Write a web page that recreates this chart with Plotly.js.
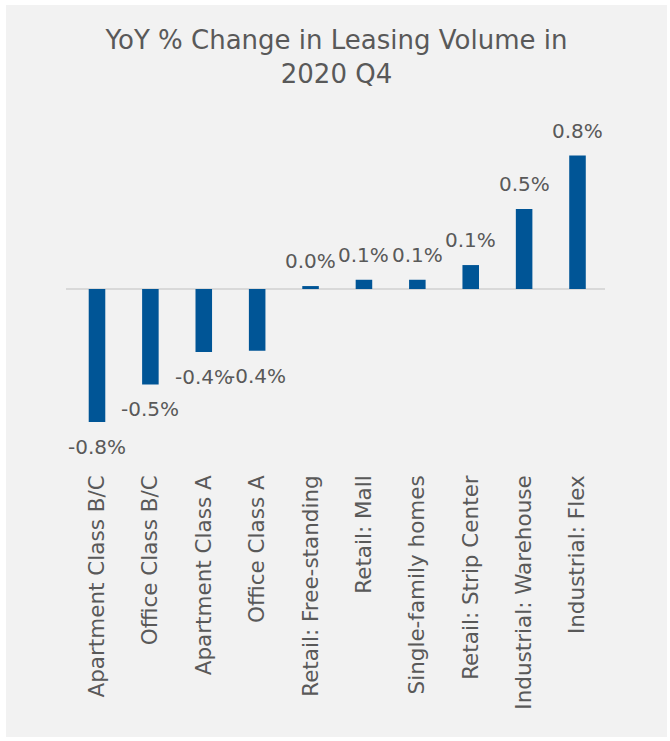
<!DOCTYPE html>
<html>
<head>
<meta charset="utf-8">
<script src="https://cdn.plot.ly/plotly-3.0.1.min.js"></script>
<style>
  html, body { margin: 0; padding: 0; background: #ffffff; }
  #wrap { position: relative; width: 670px; height: 741px; background: #ffffff; overflow: hidden; }
  #chart { position: absolute; left: 6px; top: 5px; width: 661px; height: 732px; }
</style>
</head>
<body>
<div id="wrap"><div id="chart"></div></div>
<script>
const categories = [
  "Apartment Class B/C",
  "Office Class B/C",
  "Apartment Class A",
  "Office Class A",
  "Retail: Free-standing",
  "Retail: Mall",
  "Single-family homes",
  "Retail: Strip Center",
  "Industrial: Warehouse",
  "Industrial: Flex"
];
// YoY % change (percent units)
const yoyChange = [-0.76, -0.545, -0.36, -0.352, 0.017, 0.053, 0.053, 0.137, 0.457, 0.763];

const FONT = "DejaVu Sans, Open Sans, sans-serif";
const GREY = "#595959";

const trace = {
  type: "bar",
  x: categories,
  y: yoyChange,
  marker: { color: "#005596" },
  hoverinfo: "x+y"
};

// value labels placed through the axis scales
const labelAnnotations = categories.map((c, i) => ({
  x: c,
  y: yoyChange[i],
  xref: "x",
  yref: "y",
  text: yoyChange[i].toFixed(1) + "%",
  showarrow: false,
  xanchor: "center",
  yanchor: "middle",
  yshift: yoyChange[i] >= 0 ? 25 : -25,
  font: { family: FONT, size: 20, color: GREY }
}));

const layout = {
  width: 661,
  height: 732,
  paper_bgcolor: "#f2f2f2",
  plot_bgcolor: "#f2f2f2",
  margin: { l: 60, r: 62, t: 105, b: 267 },
  showlegend: false,
  bargap: 0.69,
  title: {
    text: "YoY % Change in Leasing Volume in<br>2020 Q4",
    font: { family: FONT, size: 26, color: GREY },
    x: 0.5,
    xanchor: "center",
    y: 0.94,
    yanchor: "top",
    yref: "container"
  },
  annotations: labelAnnotations,
  xaxis: {
    type: "category",
    tickangle: -90,
    tickfont: { family: FONT, size: 21.5, color: GREY },
    showline: false,
    showgrid: false,
    zeroline: false,
    ticks: "",
    automargin: false
  },
  yaxis: {
    range: [-1.034, 1.023],
    visible: true,
    showticklabels: false,
    showgrid: false,
    zeroline: true,
    zerolinecolor: "#d9d9d9",
    zerolinewidth: 2,
    showline: false,
    ticks: "",
    automargin: false
  }
};

Plotly.newPlot("chart", [trace], layout, { displayModeBar: false, staticPlot: true });
</script>
</body>
</html>
